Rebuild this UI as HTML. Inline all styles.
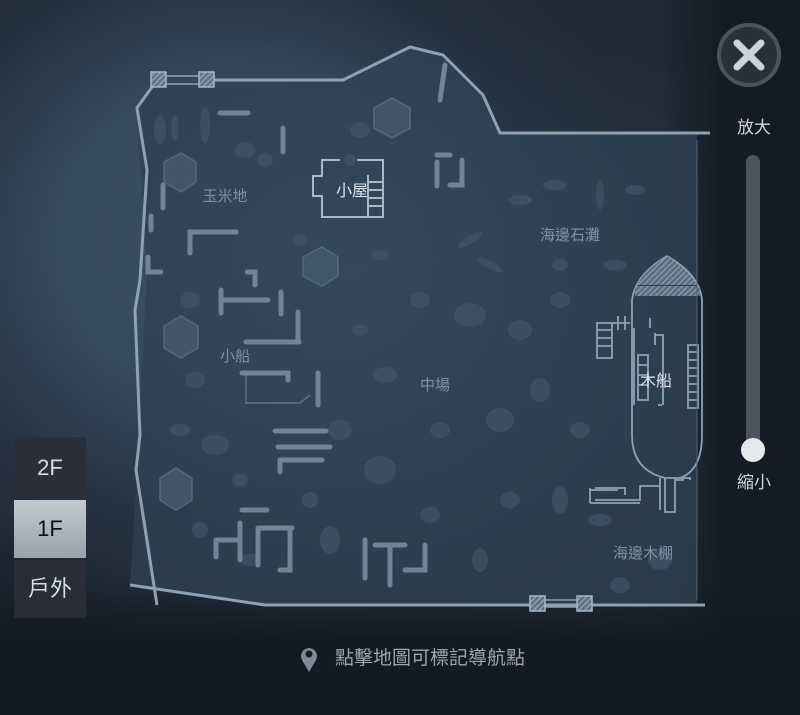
<!DOCTYPE html>
<html><head><meta charset="utf-8"><style>
html,body{margin:0;padding:0}
body{width:800px;height:715px;overflow:hidden;position:relative;background:#19222d;font-family:"Liberation Sans","Noto Sans CJK TC",sans-serif}
.bg{position:absolute;inset:0;background:
radial-gradient(ellipse 420px 380px at 230px 240px,#3c4f63 0%,#364a5e 40%,rgba(40,54,70,0.5) 75%,rgba(25,34,45,0) 100%),
radial-gradient(ellipse 520px 360px at 420px 380px,#2b3b4c 0%,rgba(30,42,55,0) 100%),
linear-gradient(180deg,#1f2a37 0%,#222e3c 60%,#131a23 100%);}
.rdark{position:absolute;right:0;top:0;width:140px;height:715px;background:linear-gradient(90deg,rgba(20,27,36,0),#141b24 45%)}
.bdark{position:absolute;left:0;top:590px;width:800px;height:125px;background:linear-gradient(180deg,rgba(18,25,34,0),#131a23 40%)}
svg{position:absolute;left:0;top:0}
.btn{position:absolute;left:14px;width:72px;color:#d6dde3;font-size:22px;text-align:center}
.lbl{font-family:"Liberation Sans","Noto Sans CJK TC",sans-serif}
</style></head><body>
<div class="bg"></div><div class="rdark"></div><div class="bdark"></div>
<svg width="800" height="715" viewBox="0 0 800 715">
<defs><pattern id="h" width="4" height="4" patternUnits="userSpaceOnUse" patternTransform="rotate(45)"><rect width="4" height="4" fill="#5d7183"/><rect width="1.5" height="4" fill="#8ea2b2"/></pattern>
<radialGradient id="mf" cx="0.4" cy="0.4" r="0.7"><stop offset="0" stop-color="#34475a"/><stop offset="1" stop-color="#2c3d4e"/></radialGradient></defs>
<polygon points="152,82 343,82 410,47 443,55 483,95 500,133 697,133 697,603 265,605 130,585 137,470 147,270 137,108" fill="url(#mf)" opacity="0.9"/>
<g fill="#405466" opacity="0.75">
<ellipse cx="160" cy="130" rx="6" ry="14"/><ellipse cx="175" cy="128" rx="4" ry="12"/><ellipse cx="205" cy="125" rx="5" ry="18"/><ellipse cx="245" cy="150" rx="10" ry="8"/><ellipse cx="265" cy="160" rx="8" ry="7"/>
<ellipse cx="360" cy="130" rx="10" ry="8"/><ellipse cx="350" cy="160" rx="6" ry="6"/><ellipse cx="300" cy="240" rx="7" ry="6"/><ellipse cx="380" cy="255" rx="8" ry="5"/>
<ellipse cx="520" cy="200" rx="12" ry="5"/><ellipse cx="555" cy="185" rx="12" ry="5"/><ellipse cx="600" cy="195" rx="4" ry="15"/><ellipse cx="635" cy="190" rx="10" ry="5"/><ellipse cx="560" cy="265" rx="8" ry="6"/><ellipse cx="615" cy="265" rx="12" ry="5"/>
<ellipse cx="470" cy="240" rx="14" ry="4" transform="rotate(-30 470 240)"/><ellipse cx="490" cy="265" rx="14" ry="4" transform="rotate(30 490 265)"/>
<ellipse cx="420" cy="300" rx="10" ry="8"/><ellipse cx="470" cy="315" rx="16" ry="12"/><ellipse cx="520" cy="330" rx="12" ry="10"/><ellipse cx="560" cy="300" rx="10" ry="8"/><ellipse cx="360" cy="330" rx="8" ry="6"/>
<ellipse cx="385" cy="375" rx="12" ry="8"/><ellipse cx="440" cy="430" rx="10" ry="8"/><ellipse cx="500" cy="420" rx="14" ry="12"/><ellipse cx="540" cy="390" rx="10" ry="12"/><ellipse cx="580" cy="430" rx="10" ry="8"/>
<ellipse cx="560" cy="500" rx="8" ry="14"/><ellipse cx="510" cy="500" rx="10" ry="8"/><ellipse cx="600" cy="520" rx="12" ry="6"/><ellipse cx="660" cy="560" rx="12" ry="10"/><ellipse cx="620" cy="585" rx="10" ry="8"/>
<ellipse cx="190" cy="300" rx="10" ry="8"/><ellipse cx="195" cy="380" rx="10" ry="8"/><ellipse cx="180" cy="430" rx="10" ry="6"/><ellipse cx="215" cy="445" rx="14" ry="10"/><ellipse cx="240" cy="480" rx="8" ry="6"/>
<ellipse cx="340" cy="430" rx="12" ry="10"/><ellipse cx="380" cy="470" rx="16" ry="14"/><ellipse cx="430" cy="515" rx="10" ry="8"/><ellipse cx="480" cy="560" rx="8" ry="12"/><ellipse cx="330" cy="540" rx="10" ry="14"/>
<ellipse cx="200" cy="530" rx="8" ry="8"/><ellipse cx="250" cy="560" rx="10" ry="6"/><ellipse cx="310" cy="500" rx="8" ry="8"/>
</g>
<g fill="#45596c" stroke="#5a6f82" stroke-width="1.5" opacity="0.85">
<polygon points="181,153 196,162 196,182 181,192 164,182 164,162"/>
<polygon points="392,98 410,108 410,128 392,138 374,128 374,108"/>
<polygon points="322,247 338,257 338,276 322,286 303,276 303,257"/>
<polygon points="181,316 198,326 198,348 181,358 164,348 164,326"/>
<polygon points="176,468 192,478 192,500 176,510 160,500 160,478"/>
</g>
<g stroke="#6f8496" stroke-width="5" stroke-linecap="round" fill="none">
<path d="M220,113 H248"/><path d="M283,128 V152"/><path d="M163,185 V208"/><path d="M151,216 V230"/><path d="M148,257 V272 H161"/>
<path d="M190,253 V232 H236"/><path d="M221,313 V290 M221,300 H268 M247,272 H255 V285 M281,292 V314 M298,312 V340 M246,342 H299"/>
<path d="M242,373 H288 V380"/><path d="M318,373 V405"/><path d="M275,431 H326 M278,447 H330 M280,460 H322 M280,460 V472"/>
<path d="M242,510 H267 M240,523 V560 M216,540 V557 M216,540 H238 M258,528 V565 M258,528 H292 M290,528 V545 M280,570 H290 V548"/>
<path d="M365,540 V578 M390,545 V585 M375,545 H405 M405,570 H425 V545"/>
<path d="M437,162 V186 M437,155 H450 M462,160 V185 H450"/>
<path d="M445,65 L440,100"/>
</g>
<g stroke="#a9bac7" stroke-width="2" fill="none">
<path d="M340,160 H322 V176 H313 V196 H322 V217 H383 V160 H357"/>
<path d="M368,175 V217 M368,182 H383 M368,190 H383 M368,198 H383 M368,206 H383"/>
</g>
<g stroke="#5f7486" stroke-width="1.5" fill="none"><path d="M246,375 V403 H300 L310,395"/></g>
<g stroke="#8fa3b3" stroke-width="1.8" fill="none">
<path d="M667,256 Q635,275 632,300 V435 Q632,470 665,478 H690 V480"/>
<path d="M667,256 Q700,275 702,300 V435 Q702,470 680,478"/>
<path d="M660,478 V486 H640 V500 H595 M595,488 H625 V495 M660,510 V486 M665,478 V512 H675 V480 H684"/>
<path d="M597,323 H612 V358 H597 Z M597,330 H612 M597,338 H612 M597,346 H612 M612,323 H630 M618,316 V330 M625,316 V330"/>
<path d="M634,328 V405 M650,318 V328"/>
<path d="M655,335 H663 V405 M662,405 H658 M655,333 V345"/>
<path d="M688,345 H698 V408 H688 Z M688,352 H698 M688,360 H698 M688,368 H698 M688,376 H698 M688,384 H698 M688,392 H698 M688,400 H698"/>
<path d="M638,355 H648 V400 H638 Z M638,365 H648 M638,375 H648 M638,385 H648"/>
<path d="M590,488 V503 M590,490 H618 M590,503 H640"/>
</g>
<path d="M667,256 Q645,270 637,285 H697 Q689,270 667,256Z" fill="url(#h)" opacity="0.9"/>
<rect x="635" y="286" width="65" height="10" fill="url(#h)" opacity="0.9"/>
<g stroke="#8ea2b3" stroke-width="3" fill="none" stroke-linejoin="round">
<path d="M157,80 L137,108 L147,170 L140,280 L135,310 L140,435 L136,470 L157,605"/>
<path d="M207,80 H343 L410,47 L443,55 L483,95 L500,133 H710"/>
<path d="M130,585 L265,605 H705"/>
<path d="M166,76 H199 M166,84 H199" stroke-width="1.5"/>
<path d="M545,600 H577 M545,607 H577" stroke-width="1.5"/>
</g>
<line x1="697" y1="140" x2="697" y2="600" stroke="#4d6072" stroke-width="1"/>
<g fill="url(#h)" stroke="#a6b7c4" stroke-width="1.5">
<rect x="151" y="72" width="15" height="15"/><rect x="199" y="72" width="15" height="15"/>
<rect x="530" y="596" width="15" height="15"/><rect x="577" y="596" width="15" height="15"/>
</g>
<g class="lbl" font-size="15" fill="#7e92a3" text-anchor="middle">
<text x="225" y="201">玉米地</text>
<text x="570" y="240">海邊石灘</text>
<text x="235" y="361">小船</text>
<text x="435" y="390">中場</text>
<text x="643" y="558">海邊木棚</text>
</g>
<text class="lbl" x="352" y="196" font-size="16" fill="#dfe6ec" text-anchor="middle">小屋</text>
<text class="lbl" x="656" y="386" font-size="16" fill="#dfe6ec" text-anchor="middle">木船</text>
<circle cx="749" cy="55" r="30" fill="#28303a" stroke="#4a5460" stroke-width="4"/>
<path d="M737,43 L761,67 M761,43 L737,67" stroke="#cdd3d9" stroke-width="7" stroke-linecap="round"/>
<text class="lbl" x="754" y="133" font-size="17" fill="#cfd6dc" text-anchor="middle">放大</text>
<rect x="746" y="155" width="14" height="300" rx="7" fill="#4a5561"/>
<circle cx="753" cy="450" r="12" fill="#e5e9ec"/>
<text class="lbl" x="754" y="488" font-size="17" fill="#cfd6dc" text-anchor="middle">縮小</text>
<path d="M309,672 L302,660 A8,8 0 1 1 316,660 Z" fill="#7d8c98"/>
<circle cx="309" cy="654" r="3.5" fill="#161d26"/>
<text class="lbl" x="335" y="664" font-size="19" fill="#9aa6b0">點擊地圖可標記導航點</text>
</svg>
<div class="btn" style="top:437px;height:62px;line-height:62px;background:#2b2f3b">2F</div>
<div class="btn" style="top:500px;height:58px;line-height:58px;background:linear-gradient(#c3cad0,#98a2ab);color:#111">1F</div>
<div class="btn" style="top:560px;height:58px;line-height:58px;background:#282d39">戶外</div>
</body></html>
